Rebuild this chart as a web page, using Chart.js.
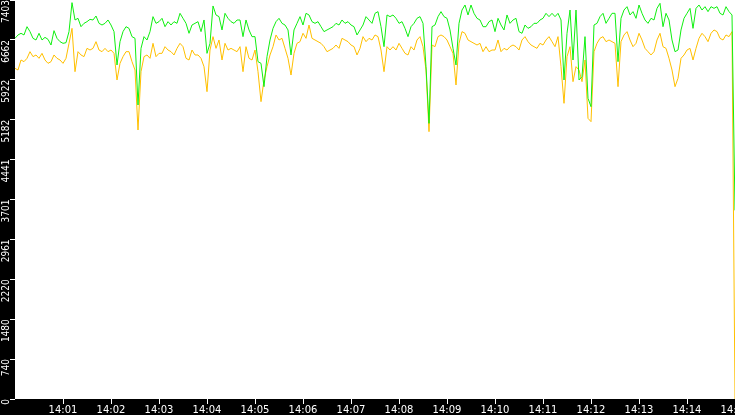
<!DOCTYPE html>
<html>
<head>
<meta charset="utf-8">
<script src="https://cdn.jsdelivr.net/npm/chart.js@4"></script>
<style>
  html, body { margin: 0; padding: 0; background: #000; }
  canvas { display: block; }
</style>
</head>
<body>
<canvas id="rateChart" width="735" height="415"></canvas>
<script>
// tick labels
const xTickLabels = ['14:01', '14:02', '14:03', '14:04', '14:05', '14:06', '14:07', '14:08',
    '14:09', '14:10', '14:11', '14:12', '14:13', '14:14', '14:15'];
const yTickLabels = ['0', '740', '1480', '2220', '2961', '3701', '4441', '5182', '5922', '6662', '7403'];

// samples every 3.75 s from 14:00:00, last one at 14:15:00
const sampleStep = 3.75;

const greenValues = [
    6692, 6754, 6785, 6754, 6908, 6816, 6692, 6661, 6785, 6661, 6710, 6673, 6568, 6834, 6692, 6630, 6599, 6611, 6816, 7354,
    7032, 7063, 6908, 6970, 7001, 7044, 7032, 7106, 6970, 6939, 6970, 7032, 6939, 6816, 6197, 6630, 6816, 6908, 6877, 6723,
    6692, 5455, 6506, 6723, 6661, 6816, 7094, 6970, 7001, 7063, 6908, 7001, 6939, 7001, 6970, 7156, 7063, 6970, 6785, 6939,
    6970, 7001, 6816, 7032, 6413, 6599, 7292, 7125, 7094, 6847, 7156, 7063, 7001, 6970, 7032, 7032, 6723, 7032, 6847, 6723,
    6723, 6259, 6228, 5795, 6352, 6661, 6877, 7001, 7063, 6970, 6939, 6847, 6383, 6847, 6970, 7094, 6939, 7156, 7125, 7001,
    6970, 7001, 6908, 6816, 6847, 6877, 6908, 6970, 6939, 7032, 6970, 7001, 6939, 6908, 6754, 6847, 6939, 7094, 7032, 6970,
    7156, 7187, 6908, 6537, 7125, 7094, 7125, 7063, 6970, 7001, 6877, 6723, 6908, 6970, 7063, 7094, 6970, 6166, 5115, 6908,
    6939, 7094, 7187, 7094, 7063, 6847, 6506, 6197, 6970, 7217, 7310, 7125, 7310, 7156, 7063, 7032, 6908, 6908, 7001, 7032,
    6816, 7063, 6939, 6847, 7125, 6970, 7032, 7063, 6816, 6785, 6939, 6877, 6908, 6970, 6970, 7032, 7063, 7156, 7094, 7156,
    7094, 7156, 7032, 5919, 6785, 7217, 6290, 7217, 5919, 5981, 6723, 5579, 5424, 6939, 6970, 7094, 7156, 6970, 7063, 7156,
    7156, 6259, 7063, 7217, 7279, 7125, 7187, 7063, 7310, 7156, 7032, 6970, 7063, 7032, 7248, 7341, 6908, 7156, 7032, 6661,
    6444, 6475, 6847, 7063, 7156, 7248, 6877, 7248, 7310, 7217, 7279, 7187, 7279, 7248, 7279, 7156, 7125, 7279, 7187, 7125,
    3500
];

const orangeValues = [
    6135, 6104, 6290, 6259, 6321, 6444, 6352, 6383, 6321, 6413, 6290, 6228, 6259, 6383, 6321, 6290, 6228, 6321, 6599, 6877,
    6073, 6444, 6383, 6352, 6506, 6475, 6506, 6630, 6475, 6444, 6506, 6444, 6475, 6413, 5919, 6228, 6352, 6444, 6444, 6259,
    6104, 4991, 6073, 6352, 6383, 6321, 6599, 6352, 6413, 6413, 6537, 6475, 6444, 6383, 6506, 6599, 6537, 6321, 6290, 6475,
    6383, 6383, 6321, 6166, 5702, 6475, 6723, 6506, 6661, 6290, 6599, 6475, 6506, 6475, 6444, 6537, 6073, 6537, 6321, 6290,
    6475, 6073, 5517, 5919, 6166, 6383, 6537, 6754, 6661, 6692, 6506, 6321, 6011, 6413, 6599, 6630, 6785, 6692, 6939, 6692,
    6661, 6630, 6599, 6537, 6444, 6475, 6506, 6568, 6506, 6692, 6661, 6630, 6568, 6537, 6383, 6506, 6723, 6630, 6692, 6661,
    6754, 6723, 6475, 6073, 6537, 6475, 6537, 6475, 6599, 6506, 6413, 6383, 6537, 6475, 6661, 6723, 6537, 6104, 4960, 6568,
    6537, 6723, 6754, 6723, 6661, 6537, 6413, 5826, 6599, 6816, 6785, 6661, 6630, 6599, 6568, 6599, 6444, 6537, 6444, 6475,
    6475, 6661, 6444, 6506, 6475, 6537, 6568, 6537, 6475, 6661, 6723, 6630, 6568, 6537, 6506, 6599, 6568, 6661, 6723, 6630,
    6537, 6723, 6166, 5486, 6352, 6537, 5888, 6166, 6104, 5888, 6290, 5207, 5146, 6444, 6599, 6692, 6723, 6630, 6661, 6630,
    6599, 5795, 6630, 6754, 6816, 6661, 6537, 6599, 6785, 6661, 6506, 6444, 6383, 6444, 6661, 6785, 6537, 6506, 6321, 6104,
    5795, 5950, 6321, 6383, 6475, 6506, 6290, 6506, 6692, 6785, 6723, 6630, 6785, 6847, 6816, 6692, 6661, 6754, 6723, 6816,
    0
];

const sampleTimes = greenValues.map((_, i) => i === greenValues.length - 1 ? 900 : i * sampleStep);

const toSeconds = label => (parseInt(label.split(':')[1], 10)) * 60;

const fillBackground = {
    id: 'fillBackground',
    beforeDraw(chart) {
        const { ctx, chartArea } = chart;
        ctx.save();
        ctx.fillStyle = '#000';
        ctx.fillRect(0, 0, chart.width, chart.height);
        ctx.fillStyle = '#fff';
        ctx.fillRect(chartArea.left, chartArea.top, chartArea.right - chartArea.left, chartArea.bottom - chartArea.top);
        ctx.restore();
    }
};

const ctx = document.getElementById('rateChart').getContext('2d');

new Chart(ctx, {
    type: 'line',
    data: {
        datasets: [{
            label: 'green',
            data: sampleTimes.map((t, i) => ({ x: t, y: greenValues[i] })),
            borderColor: '#10f010',
            borderWidth: 1,
            pointRadius: 0,
            tension: 0
        }, {
            label: 'orange',
            data: sampleTimes.map((t, i) => ({ x: t, y: orangeValues[i] })),
            borderColor: '#ffc000',
            borderWidth: 1,
            pointRadius: 0,
            tension: 0
        }]
    },
    options: {
        responsive: false,
        animation: false,
        layout: { padding: 0 },
        plugins: {
            legend: { display: false },
            tooltip: { enabled: false }
        },
        scales: {
            x: {
                type: 'linear',
                min: 0,
                max: 900,
                afterBuildTicks: scale => {
                    scale.ticks = xTickLabels.map(l => ({ value: toSeconds(l) }));
                },
                afterFit: scale => {
                    scale.height = 16;
                    scale.paddingLeft = 0;
                    scale.paddingRight = 0;
                },
                ticks: {
                    autoSkip: false,
                    maxRotation: 0,
                    padding: 0,
                    color: '#fff',
                    font: { family: 'DejaVu Sans', size: 10 },
                    callback: (value, index) => xTickLabels[index]
                },
                grid: {
                    drawOnChartArea: false,
                    drawTicks: true,
                    tickLength: 5,
                    color: '#fff'
                },
                border: { display: false }
            },
            y: {
                type: 'linear',
                min: 0,
                max: 7403,
                afterBuildTicks: scale => {
                    scale.ticks = yTickLabels.map(l => ({ value: parseFloat(l) }));
                },
                afterFit: scale => {
                    scale.width = 15;
                    scale.paddingTop = 0;
                    scale.paddingBottom = 0;
                },
                ticks: {
                    autoSkip: false,
                    minRotation: 90,
                    maxRotation: 90,
                    padding: 4,
                    color: '#fff',
                    font: { family: "'Liberation Sans Narrow', 'DejaVu Sans Condensed', sans-serif", size: 10 },
                    callback: (value, index) => yTickLabels[index]
                },
                grid: {
                    drawOnChartArea: false,
                    drawTicks: true,
                    tickLength: 5,
                    color: '#fff'
                },
                border: { display: false }
            }
        }
    },
    plugins: [fillBackground]
});
</script>
</body>
</html>
